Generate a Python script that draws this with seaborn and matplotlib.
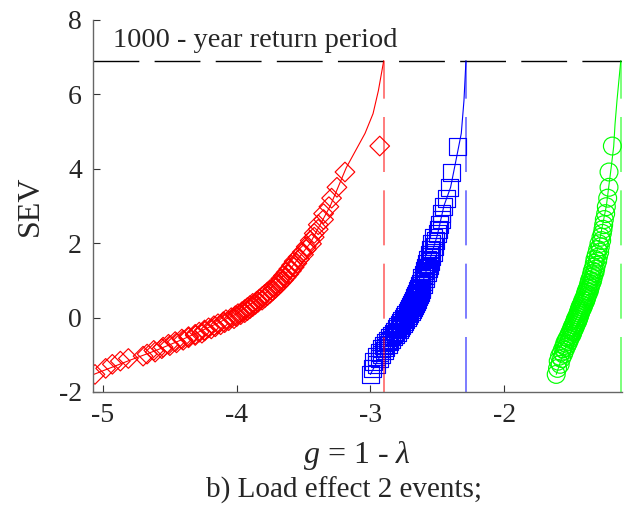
import matplotlib
matplotlib.use("Agg")
from matplotlib import pyplot as plt
import seaborn as sns

##################### Data #################################
# Gumbel standard extreme variate (plotting positions, 100 events)
sev = [-1.529, -1.367, -1.257, -1.172, -1.101, -1.038, -0.982, -0.930, -0.883, -0.838,
       -0.796, -0.756, -0.718, -0.681, -0.646, -0.611, -0.578, -0.545, -0.513, -0.482,
       -0.451, -0.421, -0.392, -0.363, -0.334, -0.305, -0.277, -0.249, -0.221, -0.194,
       -0.167, -0.139, -0.112, -0.085, -0.058, -0.031, -0.004, 0.023, 0.050, 0.077,
       0.104, 0.131, 0.158, 0.185, 0.213, 0.240, 0.268, 0.296, 0.324, 0.352,
       0.381, 0.410, 0.439, 0.468, 0.498, 0.528, 0.559, 0.589, 0.621, 0.652,
       0.685, 0.718, 0.751, 0.785, 0.819, 0.855, 0.891, 0.927, 0.965, 1.004,
       1.043, 1.084, 1.125, 1.168, 1.212, 1.257, 1.305, 1.353, 1.404, 1.456,
       1.511, 1.568, 1.628, 1.691, 1.757, 1.828, 1.903, 1.982, 2.068, 2.160,
       2.261, 2.372, 2.495, 2.634, 2.793, 2.980, 3.209, 3.501, 3.912, 4.610]

g_red = [-5.06, -4.98, -4.93, -4.87, -4.81, -4.70, -4.67, -4.61, -4.62, -4.56,
         -4.55, -4.50, -4.51, -4.45, -4.46, -4.40, -4.41, -4.36, -4.36, -4.31,
         -4.31, -4.26, -4.28, -4.24, -4.24, -4.19, -4.21, -4.16, -4.17, -4.12,
         -4.14, -4.09, -4.10, -4.06, -4.08, -4.02, -4.04, -4.00, -4.01, -3.97,
         -3.99, -3.94, -3.96, -3.92, -3.94, -3.90, -3.92, -3.88, -3.90, -3.86,
         -3.88, -3.84, -3.85, -3.81, -3.83, -3.79, -3.81, -3.77, -3.79, -3.75,
         -3.77, -3.73, -3.75, -3.71, -3.72, -3.69, -3.70, -3.67, -3.68, -3.65,
         -3.67, -3.63, -3.65, -3.61, -3.63, -3.59, -3.61, -3.57, -3.59, -3.55,
         -3.57, -3.53, -3.54, -3.50, -3.51, -3.48, -3.48, -3.44, -3.45, -3.42,
         -3.42, -3.39, -3.39, -3.35, -3.35, -3.31, -3.29, -3.25, -3.19, -2.93]

g_blue = [-3.00, -2.985, -2.955, -2.975, -2.935, -2.955, -2.915, -2.935, -2.895, -2.915,
          -2.885, -2.90, -2.865, -2.885, -2.855, -2.87, -2.84, -2.86, -2.825, -2.845,
          -2.815, -2.83, -2.80, -2.82, -2.785, -2.805, -2.775, -2.795, -2.765, -2.785,
          -2.755, -2.775, -2.745, -2.765, -2.735, -2.755, -2.725, -2.745, -2.715, -2.735,
          -2.705, -2.725, -2.695, -2.715, -2.685, -2.71, -2.68, -2.70, -2.67, -2.69,
          -2.665, -2.685, -2.655, -2.675, -2.65, -2.67, -2.64, -2.66, -2.635, -2.655,
          -2.625, -2.65, -2.62, -2.64, -2.615, -2.635, -2.605, -2.625, -2.60, -2.62,
          -2.59, -2.615, -2.585, -2.605, -2.575, -2.595, -2.565, -2.59, -2.555, -2.58,
          -2.55, -2.57, -2.54, -2.56, -2.53, -2.55, -2.52, -2.54, -2.51, -2.525,
          -2.50, -2.49, -2.485, -2.47, -2.465, -2.45, -2.43, -2.405, -2.39, -2.35]

g_green = [-1.61, -1.60, -1.58, -1.595, -1.57, -1.585, -1.555, -1.57, -1.545, -1.56,
           -1.535, -1.55, -1.525, -1.545, -1.515, -1.535, -1.51, -1.525, -1.50, -1.515,
           -1.49, -1.51, -1.485, -1.50, -1.48, -1.495, -1.47, -1.49, -1.465, -1.48,
           -1.46, -1.475, -1.45, -1.47, -1.445, -1.465, -1.44, -1.455, -1.435, -1.45,
           -1.43, -1.445, -1.425, -1.44, -1.42, -1.435, -1.41, -1.43, -1.405, -1.42,
           -1.40, -1.415, -1.39, -1.41, -1.385, -1.40, -1.38, -1.395, -1.375, -1.39,
           -1.365, -1.385, -1.36, -1.375, -1.355, -1.37, -1.35, -1.365, -1.34, -1.36,
           -1.335, -1.35, -1.33, -1.345, -1.32, -1.34, -1.315, -1.33, -1.31, -1.325,
           -1.30, -1.32, -1.295, -1.31, -1.285, -1.30, -1.28, -1.29, -1.27, -1.275,
           -1.265, -1.26, -1.255, -1.25, -1.24, -1.235, -1.225, -1.215, -1.215, -1.19]

# fitted tails
fit_red_g = [-5.07, -4.80, -4.60, -4.40, -4.20, -4.00, -3.80, -3.60, -3.45, -3.30, -3.18, -3.04, -2.98, -2.94, -2.90]
fit_red_s = [-1.53, -1.15, -0.88, -0.58, -0.25, 0.10, 0.60, 1.30, 2.00, 3.00, 4.03, 4.95, 5.48, 6.10, 6.907]
fit_blue_g = [-3.00, -2.90, -2.80, -2.70, -2.60, -2.50, -2.45, -2.40, -2.36, -2.32, -2.30, -2.285]
fit_blue_s = [-1.53, -0.85, -0.30, 0.25, 1.05, 2.20, 3.00, 3.50, 4.22, 4.95, 5.83, 6.907]
fit_green_g = [-1.61, -1.56, -1.46, -1.365, -1.29, -1.235, -1.20, -1.18, -1.17, -1.155, -1.127]
fit_green_s = [-1.53, -1.00, 0.00, 1.00, 2.00, 3.00, 4.00, 4.60, 5.20, 5.85, 6.907]

sev_1000 = 6.907
g_limit = [-2.90, -2.285, -1.127]

xticks = [-5, -4, -3, -2]
yticks = [-2, 0, 2, 4, 6, 8]

##################### Plot #################################
sns.set_style("ticks")
plt.rcParams['font.family'] = 'serif'
plt.rcParams['font.serif'] = ['Liberation Serif', 'DejaVu Serif']
plt.rcParams['axes.unicode_minus'] = False
plt.rcParams['mathtext.fontset'] = 'custom'
plt.rcParams['mathtext.rm'] = 'Liberation Serif'
plt.rcParams['mathtext.it'] = 'Liberation Serif:italic'

fig = plt.figure(figsize=(6.28, 5.11), dpi=100)
ax = fig.add_axes([0.148, 0.233, 0.842, 0.728])

sns.scatterplot(x=g_red, y=sev, marker='D', s=100, facecolor='none', edgecolor='#ff0000', linewidth=0.85, ax=ax)
sns.scatterplot(x=g_blue, y=sev, marker='s', s=150, facecolor='none', edgecolor='#0000ff', linewidth=0.85, ax=ax)
sns.scatterplot(x=g_green, y=sev, marker='o', s=165, facecolor='none', edgecolor='#00ff00', linewidth=0.85, ax=ax)

sns.lineplot(x=fit_red_g, y=fit_red_s, sort=False, estimator=None, color='#ff0000', lw=0.8, ax=ax)
sns.lineplot(x=fit_blue_g, y=fit_blue_s, sort=False, estimator=None, color='#0000ff', lw=0.8, ax=ax)
sns.lineplot(x=fit_green_g, y=fit_green_s, sort=False, estimator=None, color='#00ff00', lw=0.8, ax=ax)

xmin, xmax = -5.075, -1.12
ax.plot([xmin, xmax], [sev_1000, sev_1000], color='k', lw=1, dashes=(33, 11))
for gx, c in zip(g_limit, ['#ff0000', '#0000ff', '#00ff00']):
    ax.plot([gx, gx], [-2, sev_1000], color=c, lw=1.2, alpha=0.6, dashes=(33, 11))

ax.text(-4.925, 7.26, "1000 - year return period", fontsize=20.5, ha='left', va='baseline')

ax.set_xlim(xmin, xmax)
ax.set_ylim(-2, 8)
ax.set_xticks(xticks)
ax.set_yticks(yticks)
ax.tick_params(direction='in', length=5, width=0.8, color='#333333', labelsize=20, pad=8)
sns.despine(ax=ax)
for sp in ['left', 'bottom']:
    ax.spines[sp].set_color('#666666')
    ax.spines[sp].set_linewidth(1.0)

ax.set_ylabel("SEV", fontsize=23, labelpad=10)
ax.set_xlabel(r"$g$ = 1 - $\lambda$", fontsize=23, labelpad=8)
fig.text(0.548, 0.041, "b) Load effect 2 events;", fontsize=21, ha='center', va='center')

fig.savefig("out.png", dpi=100)
